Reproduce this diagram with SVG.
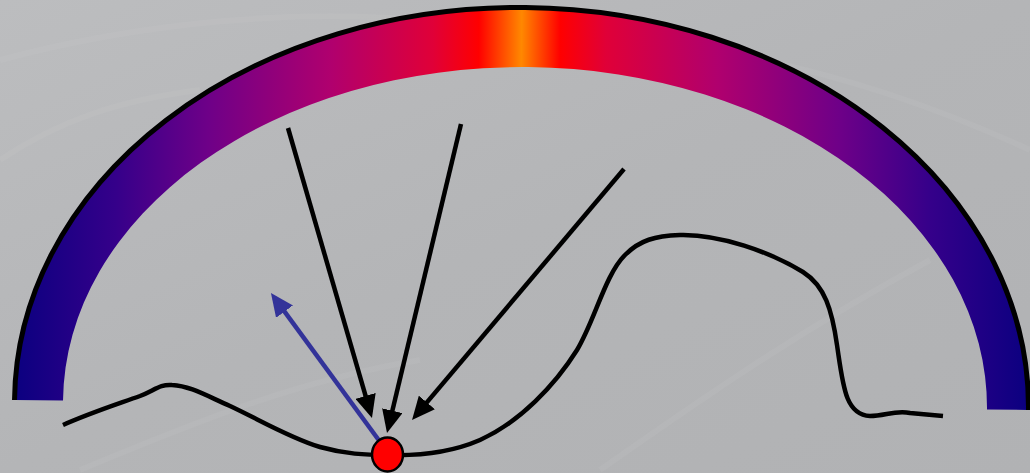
<svg xmlns="http://www.w3.org/2000/svg" width="1030" height="473" viewBox="0 0 1030 473">
<defs>
  <linearGradient id="bg" x1="0" y1="0" x2="1" y2="1">
    <stop offset="0" stop-color="#bcbdbf"/>
    <stop offset="0.5" stop-color="#b4b5b7"/>
    <stop offset="1" stop-color="#b1b2b4"/>
  </linearGradient>
  <linearGradient id="arch" gradientUnits="userSpaceOnUse" x1="12" y1="0" x2="1030" y2="0">
    <stop offset="0" stop-color="#0a0080"/>
    <stop offset="0.1" stop-color="#35008a"/>
    <stop offset="0.19" stop-color="#6e0088"/>
    <stop offset="0.31" stop-color="#b0006e"/>
    <stop offset="0.41" stop-color="#e00038"/>
    <stop offset="0.455" stop-color="#ff0000"/>
    <stop offset="0.497" stop-color="#ff8800"/>
    <stop offset="0.535" stop-color="#ff0000"/>
    <stop offset="0.58" stop-color="#e00038"/>
    <stop offset="0.69" stop-color="#b0006e"/>
    <stop offset="0.81" stop-color="#6e0088"/>
    <stop offset="0.9" stop-color="#35008a"/>
    <stop offset="1" stop-color="#0a0080"/>
  </linearGradient>
  <marker id="headK" markerUnits="userSpaceOnUse" viewBox="0 0 23 21" refX="17" refY="10.5" markerWidth="23" markerHeight="21" orient="auto">
    <path d="M0,0 L23,10.5 L0,21 z" fill="#000"/>
  </marker>
  <marker id="headB" markerUnits="userSpaceOnUse" viewBox="0 0 23 21" refX="17" refY="10.5" markerWidth="23" markerHeight="21" orient="auto">
    <path d="M0,0 L23,10.5 L0,21 z" fill="#333399"/>
  </marker>
  <style>
    .arrow { stroke: #000; stroke-width: 4.5; fill: none; marker-end: url(#headK); }
    .blue { stroke: #333399; stroke-width: 4.5; fill: none; marker-end: url(#headB); }
    .terrain { stroke: #000; stroke-width: 4.5; fill: none; stroke-linejoin: round; }
    .swirl { stroke: #ffffff; stroke-opacity: 0.045; stroke-width: 6; fill: none; }
  </style>
</defs>
<rect x="0" y="0" width="1030" height="473" fill="url(#bg)"/>
<g id="texture">
  <path class="swirl" d="M0 60 C 150 20, 300 10, 420 20"/>
  <path class="swirl" d="M0 160 C 60 120, 120 100, 200 90"/>
  <path class="swirl" d="M620 40 C 760 50, 900 90, 1030 150"/>
  <path class="swirl" d="M80 470 C 200 420, 300 380, 420 360"/>
  <path class="swirl" d="M600 470 C 700 400, 800 330, 930 260"/>
</g>
<g id="sky-arch" transform="rotate(0.56 521.5 405)">
  <path d="M 14.5 405 A 507 397.5 0 0 1 1028.5 405 L 987 405 A 462 338 0 0 0 63 405 Z" fill="url(#arch)"/>
  <path d="M 14.5 405 A 507 397.5 0 0 1 1028.5 405" fill="none" stroke="#000" stroke-width="5"/>
</g>
<g id="terrain">
  <path class="terrain" d="M 63 425 C 90 413, 115 405, 140 396 C 155 390, 160 384, 172 385 C 190 386, 205 395, 230 406 C 260 420, 290 438, 320 447 C 345 454, 365 455, 388 455 C 420 456, 450 453, 480 440 C 520 422, 555 385, 577 350 C 595 320, 605 275, 625 255 C 640 240, 655 236, 680 235 C 720 234, 770 252, 803 272 C 825 286, 832 310, 837 345 C 843 385, 845 415, 870 416 C 885 416, 895 410, 910 413 L 943 416"/>
</g>
<g id="connectors">
  <line class="arrow" x1="288" y1="128" x2="370.3" y2="412.2"/>
  <line class="arrow" x1="461" y1="124" x2="388.4" y2="427.2"/>
  <line class="arrow" x1="624" y1="169" x2="415.9" y2="415.4"/>
  <line class="blue" x1="386" y1="450" x2="274.5" y2="297.9"/>
</g>
<g id="point">
  <ellipse cx="387.5" cy="454.5" rx="15.5" ry="17" fill="#ff0000" stroke="#000" stroke-width="2.5"/>
</g>
</svg>
